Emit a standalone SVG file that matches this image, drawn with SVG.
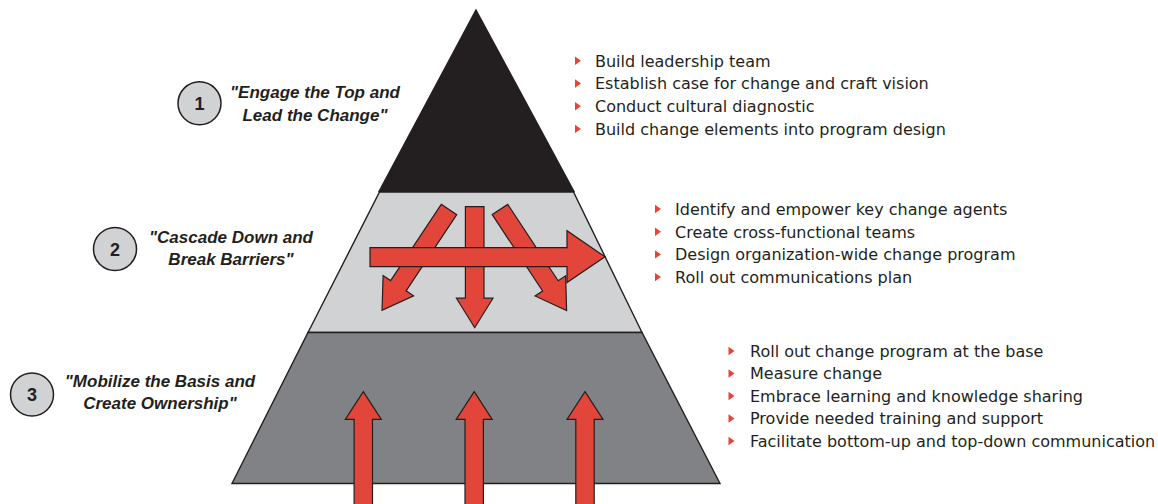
<svg xmlns="http://www.w3.org/2000/svg" xmlns:xlink="http://www.w3.org/1999/xlink" width="1158" height="504" viewBox="0 0 1158 504">
  <defs>
    <style>
      .edge { stroke: #231f20; stroke-width: 1.4; stroke-linejoin: miter; }
      .arrow { fill: #e2453a; stroke: #231f20; stroke-width: 1.2; stroke-linejoin: miter; }
      .badge { fill: #d1d2d4; stroke: #231f20; stroke-width: 1.5; }
      .num { font-family: "Liberation Sans", Arial, sans-serif; font-weight: bold; font-size: 18px; fill: #231f20; text-anchor: middle; }
      .title { font-family: "Liberation Sans", Arial, sans-serif; font-weight: bold; font-style: italic; font-size: 17px; fill: #231f20; text-anchor: middle; }
      .item { font-family: "DejaVu Sans", "Liberation Sans", sans-serif; font-size: 16px; fill: #231f20; }
      .bullet { fill: #e2453a; }
    </style>
    <path id="down" d="M-9.3,0 L9.3,0 L9.3,91.5 L18.3,91.5 L0,121 L-18.3,91.5 L-9.3,91.5 Z"/>
    <path id="up" d="M0,0 L18,27.6 L9.2,27.6 L9.2,120 L-9.2,120 L-9.2,27.6 L-18,27.6 Z"/>
    <path id="tri" d="M0,-4.2 L6,0 L0,4.2 Z"/>
  </defs>

  <rect width="1158" height="504" fill="#ffffff"/>

  <g id="level1">
    <polygon class="edge" fill="#231f20" points="476,10 574,191.5 379,191.5"/>
  </g>
  <g id="level2">
    <polygon class="edge" fill="#d1d2d4" points="379.5,192 573.5,192 642,332.5 308,332.5"/>
  </g>
  <g id="level3">
    <polygon class="edge" fill="#808285" points="308,332.5 642,332.5 720,483.5 232,483.5"/>
  </g>

  <g id="connectors">
    <use xlink:href="#down" href="#down" class="arrow" transform="translate(449,209.5) rotate(33.6)"/>
    <use xlink:href="#down" href="#down" class="arrow" transform="translate(500,209.5) rotate(-33.4)"/>
    <use xlink:href="#down" href="#down" class="arrow" transform="translate(474.7,206.7)"/>
    <path class="arrow" d="M370,247.7 H567 V230.7 L605,256.8 L567,282.5 V266.7 H370 Z"/>
    <use xlink:href="#up" href="#up" class="arrow" transform="translate(363.3,391.7)"/>
    <use xlink:href="#up" href="#up" class="arrow" transform="translate(474.2,391.7)"/>
    <use xlink:href="#up" href="#up" class="arrow" transform="translate(585,391.7)"/>
  </g>

  <g id="stage1">
    <circle class="badge" cx="199.5" cy="103.3" r="21.5"/>
    <text class="num" x="199.5" y="109.8">1</text>
    <text class="title" x="315" y="98.3">"Engage the Top and</text>
    <text class="title" x="315" y="120.7">Lead the Change"</text>
  </g>
  <g id="stage2">
    <circle class="badge" cx="115" cy="249" r="21.5"/>
    <text class="num" x="115" y="255.5">2</text>
    <text class="title" x="231" y="243">"Cascade Down and</text>
    <text class="title" x="231" y="265">Break Barriers"</text>
  </g>
  <g id="stage3">
    <circle class="badge" cx="32" cy="394.5" r="21.5"/>
    <text class="num" x="32" y="401">3</text>
    <text class="title" x="160" y="387.3">"Mobilize the Basis and</text>
    <text class="title" x="160" y="409.3">Create Ownership"</text>
  </g>

  <g id="actions1">
    <use xlink:href="#tri" href="#tri" class="bullet" x="575" y="60.8"/>
    <use xlink:href="#tri" href="#tri" class="bullet" x="575" y="83.5"/>
    <use xlink:href="#tri" href="#tri" class="bullet" x="575" y="106.2"/>
    <use xlink:href="#tri" href="#tri" class="bullet" x="575" y="128.9"/>
    <text class="item" x="595" y="66.6">Build leadership team</text>
    <text class="item" x="595" y="89.3">Establish case for change and craft vision</text>
    <text class="item" x="595" y="112">Conduct cultural diagnostic</text>
    <text class="item" x="595" y="134.7">Build change elements into program design</text>
  </g>
  <g id="actions2">
    <use xlink:href="#tri" href="#tri" class="bullet" x="655" y="209"/>
    <use xlink:href="#tri" href="#tri" class="bullet" x="655" y="231.7"/>
    <use xlink:href="#tri" href="#tri" class="bullet" x="655" y="254.4"/>
    <use xlink:href="#tri" href="#tri" class="bullet" x="655" y="277.1"/>
    <text class="item" x="675" y="214.8">Identify and empower key change agents</text>
    <text class="item" x="675" y="237.5">Create cross-functional teams</text>
    <text class="item" x="675" y="260.2">Design organization-wide change program</text>
    <text class="item" x="675" y="282.9">Roll out communications plan</text>
  </g>
  <g id="actions3">
    <use xlink:href="#tri" href="#tri" class="bullet" x="728.5" y="351"/>
    <use xlink:href="#tri" href="#tri" class="bullet" x="728.5" y="373.5"/>
    <use xlink:href="#tri" href="#tri" class="bullet" x="728.5" y="396"/>
    <use xlink:href="#tri" href="#tri" class="bullet" x="728.5" y="418.5"/>
    <use xlink:href="#tri" href="#tri" class="bullet" x="728.5" y="441"/>
    <text class="item" x="750" y="356.8">Roll out change program at the base</text>
    <text class="item" x="750" y="379.3">Measure change</text>
    <text class="item" x="750" y="401.8">Embrace learning and knowledge sharing</text>
    <text class="item" x="750" y="424.3">Provide needed training and support</text>
    <text class="item" x="750" y="446.8">Facilitate bottom-up and top-down communication</text>
  </g>
</svg>
